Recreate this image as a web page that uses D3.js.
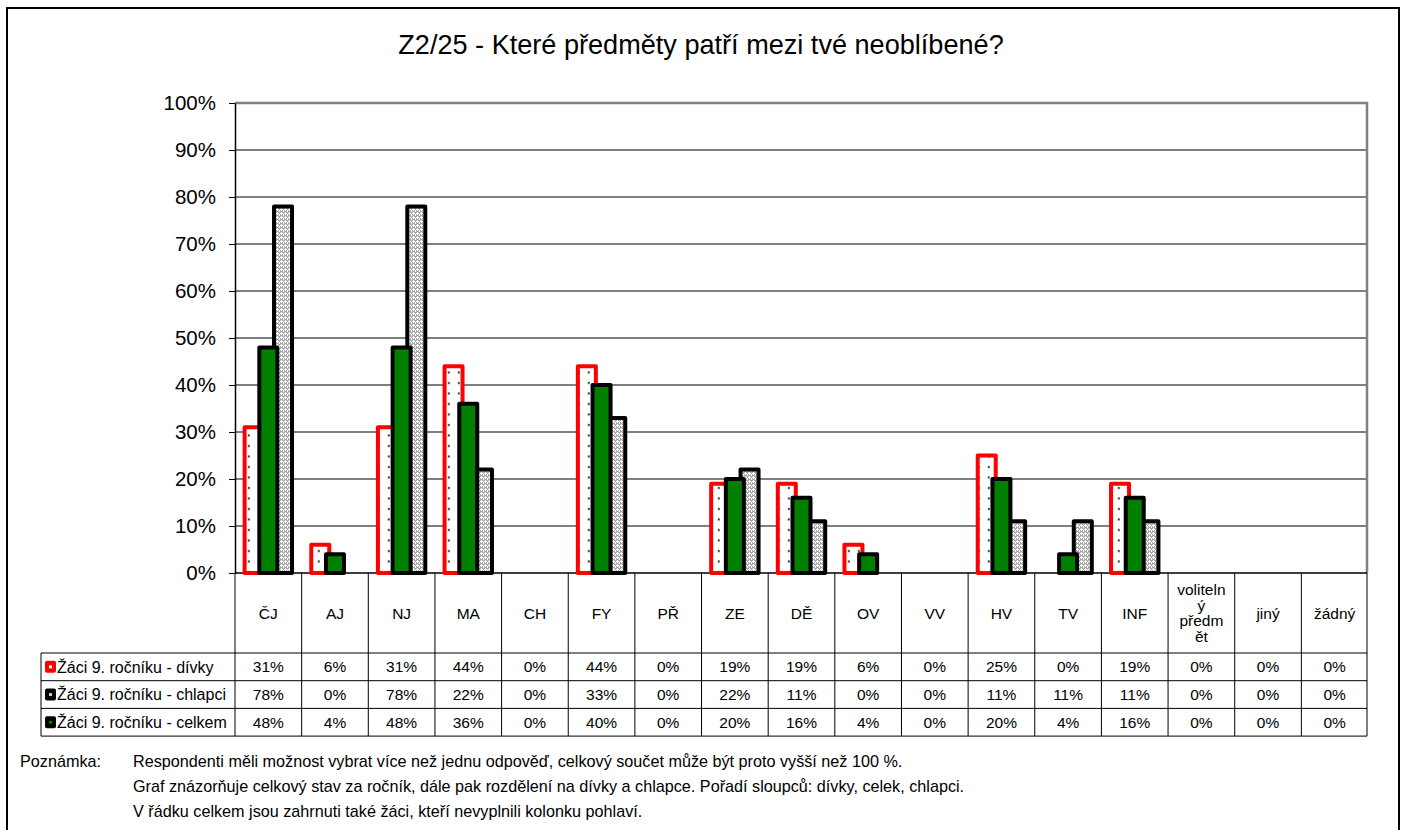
<!DOCTYPE html>
<html>
<head>
<meta charset="utf-8">
<script src="https://cdn.jsdelivr.net/npm/d3@7"></script>
<style>
  body { margin: 0; background: #fff; }
  svg { display: block; }
  text { font-family: Arial, "Liberation Sans", sans-serif; fill: #000; }
</style>
</head>
<body>
<svg id="chart" width="1402" height="830"></svg>
<script>
// Subjects (table header) and how each header is wrapped inside its cell
const categories = ["ČJ", "AJ", "NJ", "MA", "CH", "FY", "PŘ", "ZE", "DĚ", "OV", "VV", "HV", "TV", "INF", "volitelný předmět", "jiný", "žádný"];
const headerLines = { "volitelný předmět": ["voliteln", "ý", "předm", "ět"] };

// Share of pupils (in %) naming each subject
const seriesNames = ["Žáci 9. ročníku - dívky", "Žáci 9. ročníku - chlapci", "Žáci 9. ročníku - celkem"];
const divky   = [31, 6, 31, 44, 0, 44, 0, 19, 19, 6, 0, 25, 0, 19, 0, 0, 0];
const chlapci = [78, 0, 78, 22, 0, 33, 0, 22, 11, 0, 0, 11, 11, 11, 0, 0, 0];
const celkem  = [48, 4, 48, 36, 0, 40, 0, 20, 16, 4, 0, 20, 4, 16, 0, 0, 0];

const yTicks = [0, 10, 20, 30, 40, 50, 60, 70, 80, 90, 100];

const title = "Z2/25 - Které předměty patří mezi tvé neoblíbené?";
const noteLabel = "Poznámka:";
const notes = [
  "Respondenti měli možnost vybrat více než jednu odpověď, celkový součet může být proto vyšší než 100 %.",
  "Graf znázorňuje celkový stav za ročník, dále pak rozdělení na dívky a chlapce. Pořadí sloupců: dívky, celek, chlapci.",
  "V řádku celkem jsou zahrnuti také žáci, kteří nevyplnili kolonku pohlaví."
];

const svg = d3.select("#chart");

// ---- fill patterns ----
const defs = svg.append("defs");
const dots = defs.append("pattern").attr("id", "dots")
  .attr("patternUnits", "userSpaceOnUse").attr("width", 10).attr("height", 10.5);
dots.append("rect").attr("width", 10).attr("height", 10.5).attr("fill", "#fff");
dots.append("rect").attr("x", 7.8).attr("y", 4).attr("width", 2).attr("height", 2).attr("fill", "#333");

const hatch = defs.append("pattern").attr("id", "hatch")
  .attr("patternUnits", "userSpaceOnUse").attr("width", 4).attr("height", 4);
hatch.append("rect").attr("width", 4).attr("height", 4).attr("fill", "#aaaaaa");
[[1,0],[0,1],[1,1],[2,1],[1,2],[3,3],[3,2]].forEach(([px, py]) =>
  hatch.append("rect").attr("x", px).attr("y", py).attr("width", 1).attr("height", 1).attr("fill", "#fff"));

// ---- frame and title ----
svg.append("rect").attr("x", 7).attr("y", 8).attr("width", 1392).attr("height", 900)
  .attr("fill", "none").attr("stroke", "#000").attr("stroke-width", 2);

svg.append("text").attr("x", 701).attr("y", 44).attr("dy", "0.36em")
  .attr("text-anchor", "middle").style("font-size", "27.1px").text(title);

// ---- scales ----
const plot = { left: 235, right: 1368, top: 103, bottom: 573 };
const x = d3.scaleBand().domain(categories).range([plot.left, plot.right]);
const y = d3.scaleLinear().domain([0, 100]).range([plot.bottom, plot.top]);
const bw = x.bandwidth();

// gridlines
svg.append("g").selectAll("line").data(yTicks.filter(t => t > 0 && t < 100)).join("line")
  .attr("x1", plot.left).attr("x2", plot.right)
  .attr("y1", d => y(d)).attr("y2", d => y(d))
  .attr("stroke", "#000").attr("stroke-width", 1);

// plot area border (top / right)
svg.append("path")
  .attr("d", `M${plot.left},${y(100)}H${plot.right - 1}V${plot.bottom}`)
  .attr("fill", "none").attr("stroke", "#808080").attr("stroke-width", 2.5);

// y axis
const yAxis = svg.append("g").attr("transform", `translate(${plot.left},0)`)
  .call(d3.axisLeft(y).tickValues(yTicks).tickSize(6).tickSizeOuter(0).tickPadding(13)
    .tickFormat(d => d + "%"));
yAxis.select(".domain").attr("stroke", "#000").attr("stroke-width", 1.5);
yAxis.selectAll(".tick line").attr("stroke", "#000");
yAxis.selectAll(".tick text").style("font-size", "20.5px").attr("font-family", null);

// ---- table ----
const rowTop = 653, rowH = 27.7, legendLeft = 41;
const rows = [divky, chlapci, celkem];
const tableBottom = rowTop + rowH * rows.length;
const tbl = svg.append("g");

// vertical column lines (through header and rows)
const colEdges = categories.map(c => x(c)).concat([plot.right - 1]);
tbl.selectAll("line.col").data(colEdges).join("line").attr("class", "col")
  .attr("x1", d => d).attr("x2", d => d)
  .attr("y1", plot.bottom).attr("y2", tableBottom)
  .attr("stroke", "#000").attr("stroke-width", 1);
// horizontal row lines
tbl.selectAll("line.row").data(d3.range(rows.length + 1)).join("line").attr("class", "row")
  .attr("x1", legendLeft).attr("x2", plot.right - 1)
  .attr("y1", i => rowTop + i * rowH).attr("y2", i => rowTop + i * rowH)
  .attr("stroke", "#000").attr("stroke-width", 1);
tbl.append("line").attr("x1", legendLeft).attr("x2", legendLeft)
  .attr("y1", rowTop).attr("y2", tableBottom).attr("stroke", "#000");

// header labels
const headerMid = (plot.bottom + rowTop) / 2;
categories.forEach(c => {
  const lines = headerLines[c] || [c];
  const lh = 15.7;
  const t = tbl.append("text").attr("text-anchor", "middle").style("font-size", "15.5px");
  lines.forEach((ln, i) => {
    t.append("tspan").attr("x", x(c) + bw / 2)
      .attr("y", headerMid + (i - (lines.length - 1) / 2) * lh)
      .attr("dy", "0.36em").text(ln);
  });
});

// values
rows.forEach((vals, r) => {
  tbl.selectAll(null).data(vals).join("text")
    .attr("x", (d, i) => x(categories[i]) + bw / 2)
    .attr("y", rowTop + r * rowH + rowH / 2).attr("dy", "0.36em")
    .attr("text-anchor", "middle").style("font-size", "15.5px")
    .text(d => d + "%");
});

// legend keys
const keyStyle = [
  { fill: "#ff0000", center: "#fff" },
  { fill: "#000", center: "#ccc" },
  { fill: "#000", center: "#008000" }
];
seriesNames.forEach((name, r) => {
  const cy = rowTop + r * rowH + rowH / 2;
  tbl.append("rect").attr("x", 45).attr("y", cy - 6).attr("width", 11).attr("height", 12)
    .attr("rx", 2).attr("fill", keyStyle[r].fill);
  tbl.append("rect").attr("x", 49).attr("y", cy - 1.5).attr("width", 3).attr("height", 3)
    .attr("fill", keyStyle[r].center);
  tbl.append("text").attr("x", 57).attr("y", cy).attr("dy", "0.36em")
    .style("font-size", "16px").text(name);
});

// x axis line
svg.append("line").attr("x1", plot.left).attr("x2", plot.right - 1)
  .attr("y1", plot.bottom).attr("y2", plot.bottom)
  .attr("stroke", "#000").attr("stroke-width", 1.5);

// ---- bars: column order dívky, celkem, chlapci ----
const barSeries = [
  { values: divky,   slot: 0, fill: "url(#dots)",  stroke: "#ff0000" },
  { values: chlapci, slot: 2, fill: "url(#hatch)", stroke: "#000" },
  { values: celkem,  slot: 1, fill: "#008000",     stroke: "#000" }
];
const pitch = 14.7, barW = 18;
barSeries.forEach(s => {
  svg.append("g").selectAll("rect")
    .data(s.values.map((v, i) => ({ cat: categories[i], v })).filter(d => d.v > 0))
    .join("rect")
    .attr("x", d => x(d.cat) + bw / 2 + (s.slot - 1) * pitch - barW / 2)
    .attr("y", d => y(d.v))
    .attr("width", barW)
    .attr("height", d => y(0) - y(d.v))
    .attr("fill", s.fill).attr("stroke", s.stroke).attr("stroke-width", 4)
    .attr("stroke-linejoin", "round");
});

// ---- notes ----
const noteFont = "16.2px";
svg.append("text").attr("x", 20).attr("y", 761).attr("dy", "0.36em")
  .style("font-size", noteFont).text(noteLabel);
notes.forEach((n, i) => {
  svg.append("text").attr("x", 133).attr("y", 761 + i * 25).attr("dy", "0.36em")
    .style("font-size", noteFont).text(n);
});
</script>
</body>
</html>
